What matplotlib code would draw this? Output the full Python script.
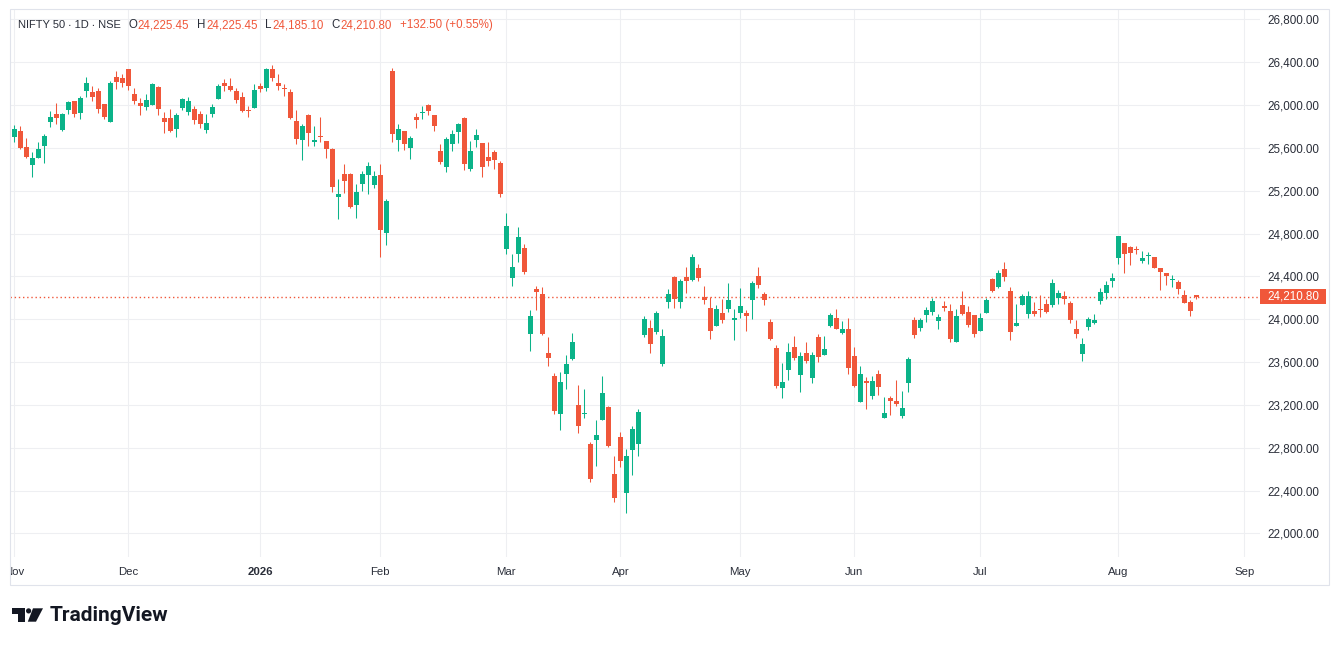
import matplotlib.pyplot as plt
import numpy as np
from matplotlib.patches import Rectangle, Polygon, Circle
from matplotlib.transforms import Bbox, TransformedBbox

# daily OHLC, NIFTY 50 (Nov 2025 .. Aug 2026)
opens = [25701, 25754, 25605, 25440, 25506, 25617, 25841, 25913, 25767, 25953,
         26034, 25925, 26131, 26118, 26128, 26006, 25841, 26264, 26249, 26333,
         26100, 26016, 25981, 26000, 26165, 25876, 25876, 25776, 25969, 25935,
         25960, 25913, 25767, 25913, 26053, 26208, 26183, 26128, 26072, 25950,
         25969, 26183, 26159, 26342, 26202, 26156, 26118, 25848, 25670, 25904,
         25652, 25711, 25661, 25586, 25139, 25353, 25353, 25064, 25260, 25344,
         25250, 25344, 24803, 26314, 25678, 25760, 25602, 25888, 25922, 26000,
         25907, 25570, 25424, 25639, 25751, 25879, 25405, 25676, 25645, 25514,
         25561, 25458, 24658, 24387, 24612, 24665, 23864, 24282, 24235, 23684,
         23469, 23117, 23488, 23628, 23198, 23114, 22834, 22871, 23061, 23180,
         22554, 22900, 22380, 22781, 22837, 23856, 23919, 23881, 23585, 24162,
         24396, 24162, 24396, 24371, 24480, 24212, 24106, 23941, 24059, 24100,
         23997, 24062, 24059, 24175, 24406, 24237, 23975, 23732, 23360, 23529,
         23741, 23482, 23685, 23454, 23835, 23669, 23938, 24012, 23875, 23910,
         23657, 23229, 23423, 23286, 23488, 23080, 23267, 23239, 23098, 23407,
         23994, 23922, 24041, 24069, 23984, 24115, 24078, 23788, 24134, 24069,
         24041, 23891, 24059, 24378, 24303, 24471, 24267, 23935, 24131, 24047,
         24081, 24090, 24146, 24131, 24196, 24221, 24156, 23913, 23673, 23932,
         23969, 24174, 24249, 24361, 24575, 24715, 24678, 24650, 24541, 24588,
         24585, 24482, 24435, 24367, 24351, 24230, 24165, 24225.45]
highs = [25810, 25801, 25689, 25558, 25658, 25726, 25941, 26016, 25925, 26034,
         26034, 26081, 26258, 26183, 26156, 26006, 26224, 26317, 26286, 26333,
         26162, 26068, 26106, 26208, 26177, 25938, 25960, 25928, 26065, 26075,
         25988, 25947, 25913, 26006, 26193, 26243, 26249, 26156, 26118, 25991,
         26193, 26202, 26348, 26379, 26286, 26196, 26146, 25950, 25820, 25913,
         25801, 25885, 25661, 25596, 25306, 25446, 25362, 25260, 25381, 25465,
         25381, 25446, 25120, 26351, 25826, 25760, 25710, 25925, 25991, 26009,
         25907, 25636, 25701, 25767, 25832, 25888, 25664, 25776, 25645, 25654,
         25580, 25477, 24991, 24608, 24861, 24702, 24086, 24310, 24300, 23833,
         23497, 23506, 23665, 23871, 23385, 23348, 22853, 23058, 23469, 23189,
         22722, 22946, 22787, 23002, 23161, 24031, 23994, 24078, 23910, 24284,
         24406, 24378, 24490, 24612, 24518, 24312, 24209, 24134, 24190, 24340,
         24097, 24293, 24087, 24359, 24490, 24256, 24003, 23760, 23591, 23778,
         23844, 23694, 23788, 23694, 23863, 23844, 24059, 24097, 23984, 24012,
         23741, 23563, 23460, 23470, 23526, 23276, 23286, 23432, 23332, 23647,
         24022, 24012, 24115, 24200, 24050, 24172, 24144, 24097, 24265, 24125,
         24041, 24059, 24200, 24387, 24462, 24537, 24305, 24146, 24239, 24267,
         24165, 24230, 24193, 24379, 24277, 24267, 24174, 23997, 23829, 24025,
         24053, 24295, 24361, 24435, 24781, 24715, 24687, 24687, 24641, 24631,
         24585, 24482, 24435, 24417, 24370, 24277, 24184, 24225.45]
lows = [25655, 25586, 25506, 25328, 25506, 25459, 25795, 25823, 25757, 25913,
        25888, 25869, 26075, 26037, 25925, 25869, 25841, 26149, 26168, 26140,
        26006, 25904, 25953, 26000, 25904, 25736, 25748, 25701, 25956, 25910,
        25826, 25785, 25736, 25888, 26053, 26131, 26131, 26016, 25935, 25888,
        25969, 26118, 26131, 26224, 26140, 26084, 25866, 25633, 25484, 25614,
        25614, 25652, 25502, 25185, 24933, 25176, 25036, 24943, 25195, 25167,
        25222, 24579, 24691, 25652, 25575, 25585, 25499, 25788, 25872, 25910,
        25760, 25452, 25377, 25574, 25648, 25396, 25387, 25611, 25331, 25433,
        25405, 25144, 24612, 24313, 24537, 24425, 23703, 24086, 23852, 23563,
        23117, 22968, 23348, 23619, 22940, 23080, 22482, 22632, 23061, 22806,
        22295, 22622, 22193, 22548, 22725, 23838, 23688, 23866, 23566, 24109,
        24106, 24106, 24246, 24359, 24359, 24144, 23816, 23941, 23966, 24069,
        23807, 24012, 23891, 24006, 24296, 24134, 23807, 23360, 23267, 23435,
        23622, 23323, 23594, 23407, 23604, 23669, 23928, 23910, 23863, 23491,
        23370, 23229, 23164, 23257, 23295, 23080, 23108, 23192, 23080, 23323,
        23828, 23894, 23975, 24041, 23910, 24078, 23788, 23788, 24041, 23928,
        23835, 23891, 24059, 24256, 24293, 24359, 23810, 23935, 24131, 24009,
        24034, 24019, 24062, 24112, 24146, 24146, 23969, 23820, 23614, 23904,
        23960, 24146, 24193, 24305, 24519, 24435, 24510, 24613, 24529, 24519,
        24476, 24277, 24323, 24305, 24239, 24156, 24034, 24185.10]
closes = [25773, 25599, 25518, 25502, 25586, 25708, 25885, 25879, 25919, 26025,
          25916, 26062, 26202, 26075, 25963, 25888, 26211, 26215, 26205, 26177,
          26037, 25991, 26044, 26193, 25963, 25841, 25757, 25904, 26053, 26034,
          25860, 25823, 25829, 25978, 26183, 26174, 26137, 26044, 25941, 25944,
          26137, 26146, 26333, 26252, 26174, 26149, 25876, 25680, 25801, 25736,
          25670, 25701, 25586, 25232, 25167, 25288, 25045, 25185, 25353, 25428,
          25334, 24831, 25101, 25726, 25780, 25640, 25692, 25863, 25935, 25947,
          25807, 25471, 25682, 25729, 25823, 25452, 25570, 25720, 25424, 25480,
          25486, 25172, 24870, 24487, 24767, 24444, 24030, 24257, 23864, 23637,
          23145, 23413, 23582, 23787, 23005, 23124, 22510, 22918, 23310, 22815,
          22333, 22678, 22722, 22974, 23133, 24003, 23772, 24059, 23844, 24237,
          24190, 24359, 24359, 24583, 24381, 24175, 23894, 24097, 23997, 24181,
          24003, 24125, 24034, 24340, 24324, 24175, 23816, 23379, 23413, 23694,
          23641, 23657, 23613, 23666, 23651, 23722, 24041, 23913, 23910, 23548,
          23379, 23488, 23407, 23423, 23370, 23123, 23239, 23211, 23170, 23629,
          23856, 23994, 24087, 24172, 24022, 24109, 23816, 24031, 24050, 23947,
          23863, 24012, 24181, 24265, 24434, 24396, 23885, 23969, 24215, 24221,
          24053, 24084, 24072, 24342, 24249, 24187, 23997, 23866, 23773, 24006,
          23997, 24258, 24323, 24389, 24781, 24613, 24622, 24644, 24575, 24594,
          24476, 24439, 24401, 24373, 24286, 24156, 24078, 24210.80]

# month labels and the bar index where each month starts
month_labels = ['Nov', 'Dec', '2026', 'Feb', 'Mar', 'Apr', 'May', 'Jun', 'Jul', 'Aug', 'Sep']
month_bars = [0, 19, 41, 61, 82, 101, 121, 140, 161, 184, 205]
price_ticks = list(range(22000, 26801, 400))

up = '#0BB389'
down = '#F0573A'
txt = '#2A2E39'
grid = '#EEEFF2'

W, H = 1339, 646
fig = plt.figure(figsize=(W / 100, H / 100), dpi=100, facecolor='white')
plt.rcParams['font.family'] = ['Liberation Sans', 'DejaVu Sans']

# plot area in pixels: x 10..1260, y 9.3..557
ax = fig.add_axes([10 / W, 1 - 557 / H, 1250 / W, (557 - 9.3) / H])
o = np.array(opens, dtype=float)
h = np.array(highs, dtype=float)
l = np.array(lows, dtype=float)
c = np.array(closes, dtype=float)
idx = np.arange(len(o))
cols = np.where(c >= o, up, down)

ax.vlines(idx, l, h, colors=cols, linewidth=0.75, zorder=3)
body = np.maximum(np.abs(c - o), 10)
ax.bar(idx, body, bottom=np.minimum(o, c), width=0.75, color=cols, linewidth=0, zorder=4)

ax.set_xlim(-0.72, 207.6)
ax.set_ylim(21779, 26895)
for s in ax.spines.values():
    s.set_visible(False)

ax.set_xticks(month_bars)
ax.set_xticklabels([])
ax.set_yticks(price_ticks)
ax.set_yticklabels(['{:,.2f}'.format(v) for v in price_ticks])
ax.yaxis.tick_right()
ax.tick_params(axis='both', length=0)
ax.tick_params(axis='y', pad=5, labelsize=8.4, labelcolor=txt)
ax.grid(True, color=grid, linewidth=0.8, zorder=0)

clip = TransformedBbox(Bbox.from_extents(0, -0.2, 1.2, 1.0), ax.transAxes)
for lab, b in zip(month_labels, month_bars):
    t = ax.text(b, -0.0274, lab, transform=ax.get_xaxis_transform(), ha='center', va='center',
                fontsize=8.2, color=txt, fontweight='bold' if lab == '2026' else 'normal')
    t.set_clip_box(clip)
    t.set_clip_on(True)

# last price line and label
last = c[-1]
ax.axhline(last, color=down, linewidth=1.0, linestyle=(0, (1, 2)), zorder=2)
ax.add_patch(Rectangle((1.0, last - 72), 66 / 1250, 144, transform=ax.get_yaxis_transform(),
                       facecolor=down, edgecolor='none', clip_on=False, zorder=5))
ax.text(1.0 + 7 / 1250, last, '{:,.2f}'.format(last), transform=ax.get_yaxis_transform(),
        ha='left', va='center', fontsize=8.4, color='white', clip_on=False, zorder=6)

# overlay in pixel coordinates for frame, header and logo
ov = fig.add_axes([0, 0, 1, 1], facecolor='none')
ov.set_xlim(0, W)
ov.set_ylim(H, 0)
ov.axis('off')
ov.add_patch(Rectangle((10, 9.3), 1319, 576, fill=False, edgecolor='#E0E3EB', linewidth=0.8))

ov.text(18, 25, 'NIFTY 50 \u2219 1D \u2219 NSE', ha='left', va='center', fontsize=8.0, color=txt)
header = [('O', 128.5, '24,225.45', 137.5), ('H', 197, '24,225.45', 206.5),
          ('L', 265.5, '24,185.10', 272), ('C', 331, '24,210.80', 340)]
for letter, lx, val, vx in header:
    ov.text(lx, 25, letter, ha='left', va='center', fontsize=8.3, color=txt)
    ov.text(vx, 25, val, ha='left', va='center', fontsize=8.3, color=down)
ov.text(399.5, 25, '+132.50 (+0.55%)', ha='left', va='center', fontsize=8.3, color=down)

logo = '#131722'
ov.add_patch(Polygon([(11.7, 608.3), (25, 608.3), (25, 621.7), (18.3, 621.7), (18.3, 614), (11.7, 614)],
                     closed=True, facecolor=logo, edgecolor='none'))
ov.add_patch(Circle((28.6, 610.9), 2.6, facecolor=logo, edgecolor='none'))
ov.add_patch(Polygon([(33, 608.3), (43, 608.3), (36, 621.7), (27.8, 621.7)],
                     closed=True, facecolor=logo, edgecolor='none'))
ov.text(49.5, 615.5, 'TradingView', ha='left', va='center', fontsize=15, fontweight='bold',
        color=logo, family=['Roboto', 'DejaVu Sans'])

fig.savefig('out.png', dpi=100, facecolor='white')
